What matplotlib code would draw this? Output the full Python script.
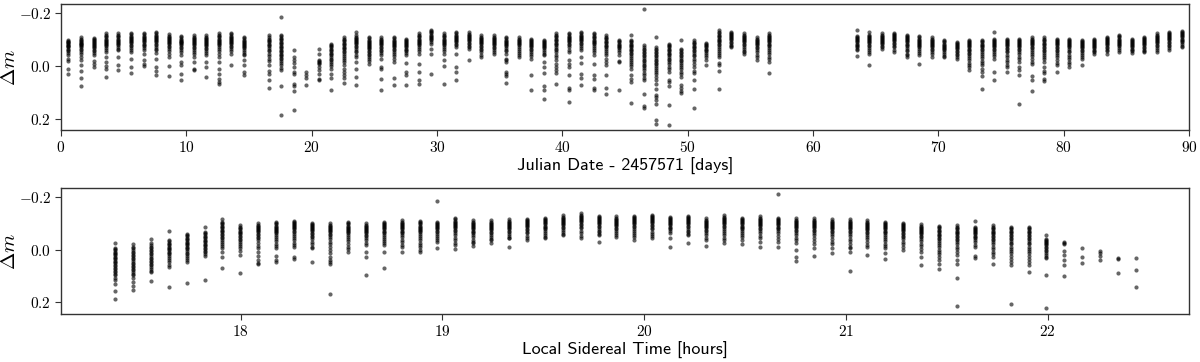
#!/usr/bin/env python3
"""
Light curve of the comparison-corrected star: delta mag vs date and vs LST.
"""

import numpy as np
import matplotlib
matplotlib.use("Agg")
import matplotlib.pyplot as plt

plt.rcParams['mathtext.fontset'] = 'cm'
plt.rcParams['font.family'] = 'serif'
plt.rcParams['font.serif'] = ['cmr10', 'DejaVu Serif']
plt.rcParams['axes.formatter.use_mathtext'] = True
plt.rcParams['axes.unicode_minus'] = True

# nightly mean epoch (JD - 2457571)
night_jd = [0.60, 1.60, 2.60, 3.59, 4.59, 5.59, 6.59, 7.59, 8.59, 9.58, 10.58,
            11.58, 12.58, 13.58, 14.57,
            16.57, 17.57, 18.57, 19.56, 20.56, 21.56, 22.56, 23.56, 24.56, 25.55,
            26.55, 27.55, 28.55, 29.55, 30.54, 31.54, 32.54, 33.54, 34.54, 35.53,
            36.53, 37.53, 38.53, 39.53, 40.53, 41.52, 42.52, 43.52, 44.52, 45.52,
            46.51, 47.51, 48.51, 49.51, 50.51, 51.50, 52.50, 53.50, 54.50, 55.50,
            56.49,
            63.48, 64.48, 65.47, 66.47, 67.47, 68.47, 69.47, 70.46, 71.46, 72.46,
            73.46, 74.46, 75.45, 76.45, 77.45, 78.45, 79.45, 80.44, 81.44, 82.44,
            83.44, 84.44, 85.43, 86.43, 87.43, 88.43, 89.43]

# delta m per night, in mmag
night_dm = [
    [-100, -96, -92, -89, -86, -83, -80, -77, -74, -70, -66, -61, -55, -48, -40, -28, -18, 13, 29],
    [-108, -104, -100, -96, -92, -88, -85, -82, -78, -74, -70, -65, -59, -52, -44, -34, -24, -3, 19, 44, 77],
    [-106, -102, -98, -94, -90, -87, -84, -80, -76, -72, -68, -62, -55, -48, -40, -19, -9, 4],
    [-125, -119, -113, -108, -104, -100, -96, -92, -88, -84, -80, -75, -69, -62, -53, -34, -15, 0, 10, 42],
    [-123, -117, -112, -108, -104, -100, -96, -92, -88, -84, -79, -73, -66, -60, -34, -3, 16],
    [-125, -120, -115, -110, -106, -102, -98, -94, -90, -86, -81, -75, -68, -60, -53, -28, 4, 27],
    [-125, -120, -115, -110, -106, -102, -98, -94, -90, -85, -80, -74, -67, -60, -47, -24, -9, 0],
    [-129, -124, -119, -114, -110, -106, -102, -98, -94, -90, -85, -79, -72, -65, -60, -49, -28, 4, 19, 35],
    [-120, -115, -110, -106, -102, -98, -94, -90, -86, -82, -77, -71, -64, -56, -47, -32, 1, 37],
    [-113, -108, -104, -100, -96, -92, -89, -86, -82, -78, -73, -67, -60, -52, -40, -15, -3, 29, 52],
    [-116, -111, -106, -102, -98, -94, -90, -86, -82, -78, -73, -67, -60, -53, -47, -34, -15, 10, 16],
    [-116, -111, -106, -102, -98, -94, -90, -86, -82, -78, -74, -69, -63, -56, -48, -40, -15, 4, 42],
    [-123, -117, -112, -108, -104, -100, -96, -92, -88, -84, -79, -73, -66, -57, -47, -32, -15, 10, 32, 48, 61, 70],
    [-125, -120, -115, -110, -106, -102, -98, -94, -90, -86, -82, -77, -71, -64, -56, -47, -5],
    [-110, -105, -100, -96, -92, -88, -84, -80, -76, -72, -67, -61, -54, -47, -40, -22, -3, 23, 35],
    # day 16 onwards
    [-116, -110, -104, -99, -94, -89, -84, -79, -74, -68, -62, -55, -47, -38, -28, -17, -3, 19, 32, 54, 84],
    [-186, -119, -113, -107, -102, -97, -92, -87, -82, -77, -72, -67, -62, -57, -52, -47, -42, -37, -31,
     -25, -18, -10, -2, 8, 16, 77, 187],
    [-60, -32, -24, -11, 4, 23, 32, 70, 77, 95, 168],
    [23, 35, 44, 73],
    [-66, -44, -24, -19, -15, -10, -6, 4, 16, 32, 48, 54],
    [-85, -80, -75, -70, -65, -60, -55, -50, -45, -40, -34, -28, -22, -15, -7, 2, 10, 29, 44, 90],
    [-108, -103, -98, -93, -88, -83, -78, -73, -68, -63, -57, -51, -44, -37, -29, -22, -15, -3, 10, 23, 35, 44, 63],
    [-127, -116, -111, -106, -102, -98, -94, -90, -86, -82, -77, -71, -64, -58, -53, -40, -32, -15, 10, 42, 73],
    [-110, -105, -100, -96, -92, -88, -84, -80, -76, -72, -68, -63, -58, -52, -46, -40, -33, -25, -17, -9],
    [-108, -103, -98, -94, -90, -86, -82, -78, -73, -68, -62, -55, -48, -40, -28, 4, 13, 48, 92],
    [-110, -105, -100, -96, -92, -88, -84, -80, -76, -71, -66, -60, -53, -45, -37, -28, -15, 44, 73],
    [-104, -99, -95, -91, -87, -83, -79, -75, -71, -66, -61, -55, -48, -40, -11, 23, 35, 73],
    [-123, -118, -113, -108, -104, -100, -96, -92, -88, -84, -79, -73, -66, -57, -47, -9, 23, 52, 70],
    [-135, -131, -127, -123, -119, -115, -111, -107, -102, -97, -91, -85, -66, -47, 32],
    [-123, -118, -113, -108, -104, -100, -96, -92, -88, -84, -79, -73, -66, -57, -47, -22, 1, 67],
    [-129, -124, -119, -115, -111, -107, -103, -99, -95, -90, -85, -79, -72, -47, 4, 23, 52],
    [-127, -122, -117, -113, -109, -105, -101, -97, -93, -88, -83, -77, -71, -66, -24],
    [-116, -111, -106, -102, -98, -94, -90, -86, -82, -77, -72, -66, -59, -51, -40, -32],
    [-116, -111, -106, -102, -98, -94, -90, -86, -82, -78, -73, -67, -60, -53, -47],
    [-110, -105, -100, -96, -92, -88, -84, -80, -75, -69, -62, -55, -47, -28, -22, -15, 23, 29, 39, 65],
    [-108, -103, -99, -95, -91, -87, -83, -79, -72, -64, -56, -48, -41, -34],
    [-104, -99, -95, -91, -87, -83, -79, -75, -70, -65, -59, -52, -44, -36, -28, 35, 90],
    [-100, -96, -92, -88, -84, -80, -76, -72, -67, -61, -54, -47, -40, -15, 4, 27, 77, 90, 124],
    [-123, -118, -113, -108, -103, -98, -93, -88, -83, -78, -72, -66, -59, -51, -43, -34, -22, -9, 4, 16, 27, 67],
    [-125, -120, -115, -110, -106, -102, -98, -94, -89, -84, -78, -71, -62, -53, -24, -9, 4, 35, 82, 92, 137],
    [-129, -124, -119, -114, -110, -106, -102, -98, -93, -88, -82, -75, -67, -60, -34, -11, 32, 44, 73],
    [-125, -120, -115, -110, -105, -100, -96, -92, -87, -82, -76, -69, -61, -51, -40, -9, 35, 48, 82, 90],
    [-116, -111, -106, -101, -96, -91, -86, -81, -76, -70, -64, -57, -49, -40, -28, -15, -3, 35, 82, 108],
    [-97, -93, -89, -85, -81, -77, -73, -68, -62, -53, -40, -18, -15, 92],
    [-119, -100, -95, -90, -85, -80, -75, -70, -65, -60, -55, -50, -44, -38, -31, -24, -16, -7, 2, 10, 35, 48,
     61, 140],
    [-215, -78, -72, -66, -60, -54, -48, -42, -36, -30, -24, -18, -12, -5, 2, 9, 17, 25, 34, 44, 54, 108, 153,
     158],
    [-110, -72, -66, -60, -54, -48, -42, -36, -30, -24, -18, -12, -6, 0, 7, 14, 22, 31, 41, 53, 67, 86, 111,
     118, 128, 143, 204, 219],
    [-85, -80, -75, -70, -65, -60, -55, -50, -45, -40, -34, -28, -21, -14, -6, 3, 13, 23, 54, 61, 77, 149, 224],
    [-100, -66, -60, -54, -48, -42, -36, -30, -24, -18, -12, -5, 3, 12, 22, 32, 42, 73, 82, 95, 102],
    [-97, -92, -87, -82, -77, -72, -67, -62, -56, -50, -43, -36, -28, -19, -9, 4, 19, 27, 54, 86, 158],
    [-87, -83, -79, -75, -71, -66, -61, -55, -48, -41, -34, -22, -3],
    [-138, -129, -124, -119, -114, -109, -104, -99, -94, -89, -84, -78, -72, -65, -58, -50, -42, -34, -11, -3,
     19, 86],
    [-129, -125, -121, -117, -113, -109, -105, -101, -97, -92, -87, -81, -76, -72],
    [-123, -118, -113, -109, -105, -101, -97, -93, -89, -84, -79, -73, -66, -58, -51, -47],
    [-108, -103, -99, -95, -91, -87, -83, -78, -73, -67, -60, -52, -43, -33, -22],
    [-123, -118, -113, -109, -105, -101, -97, -93, -89, -85, -80, -75, -69, -62, -54, -45, -35, -25, -15, 27],
    # day 63 onwards
    [-138, -113, -109, -105, -101, -97, -93, -89, -85, -81, -76, -70, -65, -60, -37],
    [-129, -119, -115, -111, -107, -103, -99, -95, -91, -86, -81, -75, -68, -61, -54, -47, -5],
    [-123, -119, -115, -111, -107, -103, -99, -95, -91, -87, -82, -77, -72, -66],
    [-125, -121, -117, -113, -109, -105, -101, -97, -93, -88, -83, -77, -70, -62, -53],
    [-119, -114, -110, -106, -102, -98, -94, -90, -85, -80, -75, -69, -62, -55, -47, -40, -34],
    [-113, -108, -104, -100, -96, -92, -88, -84, -80, -75, -70, -64, -57, -49, -40, -9],
    [-108, -104, -100, -96, -92, -88, -84, -80, -76, -71, -66, -60, -53, -45, -34],
    [-97, -93, -89, -85, -81, -77, -73, -69, -64, -59, -53, -46, -39, -32],
    [-91, -87, -83, -79, -75, -71, -67, -63, -58, -53, -47, -41, -34, -28],
    [-100, -95, -91, -87, -83, -79, -75, -71, -66, -61, -56, -50, -44, -37, -29, -21, -12, -3, 4, 16],
    [-100, -95, -90, -85, -80, -75, -70, -65, -59, -53, -46, -38, -29, -20, -11, -3, 10, 23, 39, 86],
    [-129, -104, -100, -96, -92, -88, -84, -80, -76, -71, -66, -60, -53, -45, -36, -28, 23, 54],
    [-104, -99, -94, -90, -86, -82, -78, -74, -69, -64, -58, -51, -43, -34, -24, -13, -3, 4, 23],
    [-104, -99, -95, -91, -87, -83, -79, -75, -70, -65, -59, -52, -44, -35, -25, -15, 4, 16, 35, 146],
    [-108, -103, -99, -95, -91, -87, -83, -78, -73, -67, -60, -52, -44, -36, -28, -15, -6, 39, 54, 95],
    [-108, -103, -98, -93, -88, -83, -78, -73, -68, -62, -56, -49, -42, -34, -25, -15, 4, 19, 27, 48, 57],
    [-104, -99, -94, -90, -86, -82, -78, -73, -68, -62, -56, -49, -41, -32, -22, -12, -3, 23],
    [-104, -99, -95, -91, -87, -83, -79, -75, -70, -64, -58, -51, -43, -34, -25, -15, -9, 6],
    [-100, -96, -92, -88, -84, -80, -76, -72, -67, -62, -56, -49, -42, -35, -28, -3],
    [-104, -100, -96, -92, -88, -84, -80, -76, -72, -67, -62, -56, -51, -47],
    [-110, -106, -102, -98, -94, -90, -86, -82, -78, -73, -68, -62, -55, -47],
    [-116, -112, -108, -104, -100, -96, -92, -88, -84, -79, -74, -68, -61, -53],
    [-104, -100, -96, -92, -88, -84, -80, -76, -71, -66, -60, -55, -50],
    [-110, -106, -102, -98, -94, -90, -86, -82, -78, -73, -68, -62, -57, -53],
    [-123, -119, -115, -111, -107, -103, -99, -95, -91, -86, -81, -75, -68, -61, -53],
    [-129, -125, -121, -117, -113, -109, -105, -101, -97, -92, -87, -81, -74, -67, -60],
    [-132, -128, -124, -120, -116, -112, -108, -104, -100, -95, -90, -84, -77, -70],
]

# LST of each exposure slot (hours)
lst_cols = [17.378, 17.467, 17.555, 17.644, 17.733, 17.822, 17.910, 17.999, 18.088,
            18.177, 18.265, 18.354, 18.443, 18.532, 18.621, 18.709, 18.798, 18.887,
            18.976, 19.064, 19.153, 19.242, 19.331, 19.420, 19.508, 19.597, 19.686,
            19.775, 19.863, 19.952, 20.041, 20.130, 20.219, 20.307, 20.396, 20.485,
            20.574, 20.662, 20.751, 20.840, 20.929, 21.018, 21.106, 21.195, 21.284,
            21.373, 21.461, 21.550, 21.639, 21.728, 21.817, 21.905, 21.994, 22.083,
            22.172, 22.260, 22.349, 22.438]

# delta m per LST slot, in mmag
lst_dm = [
    [-24, -8, -3, 2, 7, 12, 17, 22, 27, 32, 37, 42, 47, 52, 57, 62, 68, 74, 80, 86, 92, 98, 106, 115, 131, 159, 187],
    [-20, -11, -5, 1, 7, 13, 19, 25, 31, 37, 43, 49, 55, 61, 67, 73, 79, 85, 91, 96, 109, 124, 140, 153],
    [-40, -24, -18, -12, -6, 0, 6, 12, 18, 24, 30, 36, 42, 48, 54, 60, 67, 74, 80, 86, 121],
    [-72, -37, -32, -27, -22, -17, -12, -7, -2, 3, 8, 13, 18, 24, 30, 39, 48, 58, 67, 143],
    [-61, -56, -51, -46, -41, -36, -31, -26, -21, -16, -11, -6, -1, 5, 11, 17, 24, 32, 40, 48, 126],
    [-85, -68, -63, -58, -53, -48, -43, -38, -33, -28, -23, -18, -13, -8, -2, 4, 10, 16, 23, 114],
    [-115, -106, -101, -96, -91, -86, -81, -76, -71, -66, -61, -56, -50, -44, -37, -30, -22, -14, -5, 8, 29, 68],
    [-93, -88, -83, -78, -73, -68, -63, -58, -53, -48, -42, -36, -29, -22, -14, -5, 5, 20, 90],
    [-100, -95, -90, -86, -82, -78, -74, -70, -66, -61, -56, -50, -43, -35, -26, -15, -5, 8, 23, 39, 52, 56],
    [-106, -101, -96, -92, -88, -84, -80, -76, -72, -67, -62, -56, -49, -41, -32, -22, -13, -5, 23, 39, 48],
    [-111, -106, -101, -97, -93, -89, -85, -81, -77, -72, -67, -61, -54, -46, -37, -27, -18, -11, 27, 35],
    [-103, -98, -94, -90, -86, -82, -78, -74, -70, -65, -60, -54, -47, -39, -30, -21, -12, -5, 48],
    [-100, -95, -91, -87, -83, -79, -75, -71, -66, -61, -55, -48, -40, -31, -21, -10, 1, 14, 27, 39, 48, 56, 169],
    [-106, -101, -96, -92, -88, -84, -80, -76, -72, -67, -62, -56, -49, -41, -32, -22, -11, -2, 8],
    [-100, -95, -91, -87, -83, -79, -75, -71, -67, -62, -57, -51, -44, -36, -27, -18, 8, 27, 96],
    [-106, -101, -97, -93, -89, -85, -81, -77, -73, -68, -63, -57, -50, -42, -33, -24, -18, 8, 71],
    [-112, -107, -102, -98, -94, -90, -86, -82, -78, -73, -68, -62, -55, -47, -38, -28, -18, -11, 8],
    [-109, -104, -100, -96, -92, -88, -84, -80, -76, -71, -66, -60, -53, -45, -36, -27, -18, -11, 1, 8],
    [-184, -106, -101, -97, -93, -89, -85, -81, -77, -72, -67, -61, -54, -46, -38, -30, -8],
    [-121, -116, -111, -106, -102, -98, -94, -90, -86, -81, -76, -70, -63, -55, -46, -37, -27, -18, -3],
    [-112, -107, -102, -98, -94, -90, -86, -82, -78, -73, -68, -62, -55, -47, -38, -30, -24, -15],
    [-112, -107, -103, -99, -95, -91, -87, -83, -79, -74, -69, -63, -56, -48, -42, -37, -24],
    [-116, -111, -107, -103, -99, -95, -91, -87, -83, -78, -73, -67, -60, -52, -46, -43, -11],
    [-118, -113, -109, -105, -101, -97, -93, -89, -85, -80, -75, -69, -62, -54, -45, -37],
    [-121, -116, -112, -108, -104, -100, -96, -92, -88, -83, -78, -72, -65, -57, -49, -43],
    [-131, -126, -122, -118, -114, -110, -106, -102, -98, -93, -88, -82, -75, -68, -61, -56],
    [-138, -133, -128, -124, -120, -116, -112, -108, -104, -99, -94, -88, -81, -73, -64, -54, -43],
    [-129, -124, -120, -116, -112, -108, -104, -100, -96, -91, -86, -80, -73, -66, -60, -56, -30],
    [-127, -122, -118, -114, -110, -106, -102, -98, -94, -89, -84, -78, -71, -63, -55, -49],
    [-129, -124, -120, -116, -112, -108, -104, -100, -96, -91, -86, -80, -73, -65, -57, -49, -37],
    [-134, -129, -124, -120, -116, -112, -108, -104, -100, -95, -90, -84, -77, -69, -60, -51, -43],
    [-125, -121, -117, -113, -109, -105, -101, -97, -93, -88, -83, -77, -70, -62, -43, -11],
    [-129, -124, -120, -116, -112, -108, -104, -100, -96, -91, -86, -80, -73, -66, -60, -56, -24],
    [-119, -114, -110, -106, -102, -98, -94, -90, -86, -81, -76, -70, -63, -55, -46, -37, -15],
    [-131, -126, -121, -116, -112, -108, -104, -100, -96, -91, -86, -80, -73, -65, -56, -46, -35, -24],
    [-121, -116, -112, -108, -104, -100, -96, -92, -88, -83, -78, -72, -65, -57, -48, -37, -20],
    [-127, -122, -118, -114, -110, -106, -102, -98, -94, -89, -84, -78, -71, -63, -54, -43, -28, -11],
    [-213, -122, -117, -113, -109, -105, -101, -97, -93, -88, -83, -77, -70, -62, -53, -42, -30, -10],
    [-119, -114, -110, -106, -102, -98, -94, -90, -86, -81, -76, -70, -63, -55, -46, -35, -24, 3, 27, 43],
    [-119, -114, -110, -106, -102, -98, -94, -90, -86, -81, -76, -70, -63, -55, -45, -33, -20, -8, 25],
    [-115, -110, -106, -102, -98, -94, -90, -86, -82, -77, -72, -66, -59, -51, -42, -31, -20, -8, 14],
    [-115, -110, -106, -102, -98, -94, -90, -86, -82, -77, -72, -66, -59, -51, -42, -32, -21, -12, -5, 8, 81],
    [-112, -107, -103, -99, -95, -91, -87, -83, -79, -74, -69, -63, -56, -48, -39, -29, -19, -11, 20],
    [-106, -101, -97, -93, -89, -85, -81, -77, -73, -68, -63, -57, -50, -42, -33, -23, -13, -5, 14, 35],
    [-103, -98, -94, -90, -86, -82, -78, -74, -70, -65, -60, -54, -47, -39, -30, -20, -10, 1],
    [-96, -91, -87, -83, -79, -75, -71, -67, -63, -58, -53, -47, -40, -32, -23, -13, -3, 8, 27, 58],
    [-91, -86, -81, -76, -71, -66, -61, -56, -51, -46, -40, -34, -27, -19, -10, 0, 10, 18, 27, 39, 56, 73],
    [-93, -88, -83, -78, -73, -68, -63, -58, -53, -48, -42, -36, -29, -21, -12, -3, 7, 20, 39, 56, 109, 216],
    [-110, -87, -83, -79, -75, -71, -67, -63, -59, -54, -49, -43, -36, -28, -19, -11, 23, 33],
    [-93, -88, -83, -78, -73, -68, -63, -58, -53, -48, -42, -36, -29, -21, -12, -3, 7, 17, 27, 56],
    [-87, -82, -77, -72, -67, -62, -57, -52, -46, -40, -34, -27, -20, -12, -4, 5, 14, 24, 35, 46, 58, 206],
    [-87, -82, -77, -72, -67, -62, -57, -52, -46, -40, -34, -27, -20, -12, -4, 5, 14, 24, 35, 46, 58, 86],
    [-56, -40, -36, -32, -28, -24, -20, -16, -11, -6, 0, 6, 13, 20, 26, 33, 96, 222],
    [-28, -24, -20, 5, 20, 39, 58, 102],
    [-5, 27, 49],
    [5, 14, 23, 39],
    [33, 36, 87],
    [30, 77, 144],
]


def plot_lightcurve():
    fig = plt.figure(figsize=(12.0, 3.62), dpi=100)
    ax1 = fig.add_axes([0.0508, 0.641, 0.94, 0.348])
    ax2 = fig.add_axes([0.0508, 0.1326, 0.94, 0.3481])

    dot = dict(s=9, c='k', alpha=0.6, linewidths=0)

    # Panel 1: against date
    for jd, vals in zip(night_jd, night_dm):
        dm = np.array(vals) / 1000.0
        ax1.scatter(np.full(len(dm), jd), dm, **dot)

    # Panel 2: against local sidereal time
    for lst, vals in zip(lst_cols, lst_dm):
        dm = np.array(vals) / 1000.0
        ax2.scatter(np.full(len(dm), lst), dm, **dot)

    ax1.set_xlim(0, 90)
    ax1.set_ylim(0.243, -0.235)
    ax1.set_xticks(np.arange(0, 91, 10))
    ax1.set_yticks([-0.2, 0.0, 0.2])

    ax2.set_xlim(17.11, 22.70)
    ax2.set_ylim(0.245, -0.235)
    ax2.set_xticks([18, 19, 20, 21, 22])
    ax2.set_yticks([-0.2, 0.0, 0.2])

    ax1.set_xlabel('Julian Date - 2457571 [days]', family='cmss10', fontsize=13, labelpad=2)
    ax2.set_xlabel('Local Sidereal Time [hours]', family='cmss10', fontsize=13, labelpad=2)

    for ax in (ax1, ax2):
        ax.set_ylabel(r'$\Delta m$', fontsize=15, labelpad=0)
        ax.tick_params(labelsize=11, length=4, width=0.8, color='#333333', pad=3)
        for sp in ax.spines.values():
            sp.set_color('#333333')
            sp.set_linewidth(1.0)

    plt.savefig('out.png', dpi=100)


if __name__ == "__main__":
    plot_lightcurve()
